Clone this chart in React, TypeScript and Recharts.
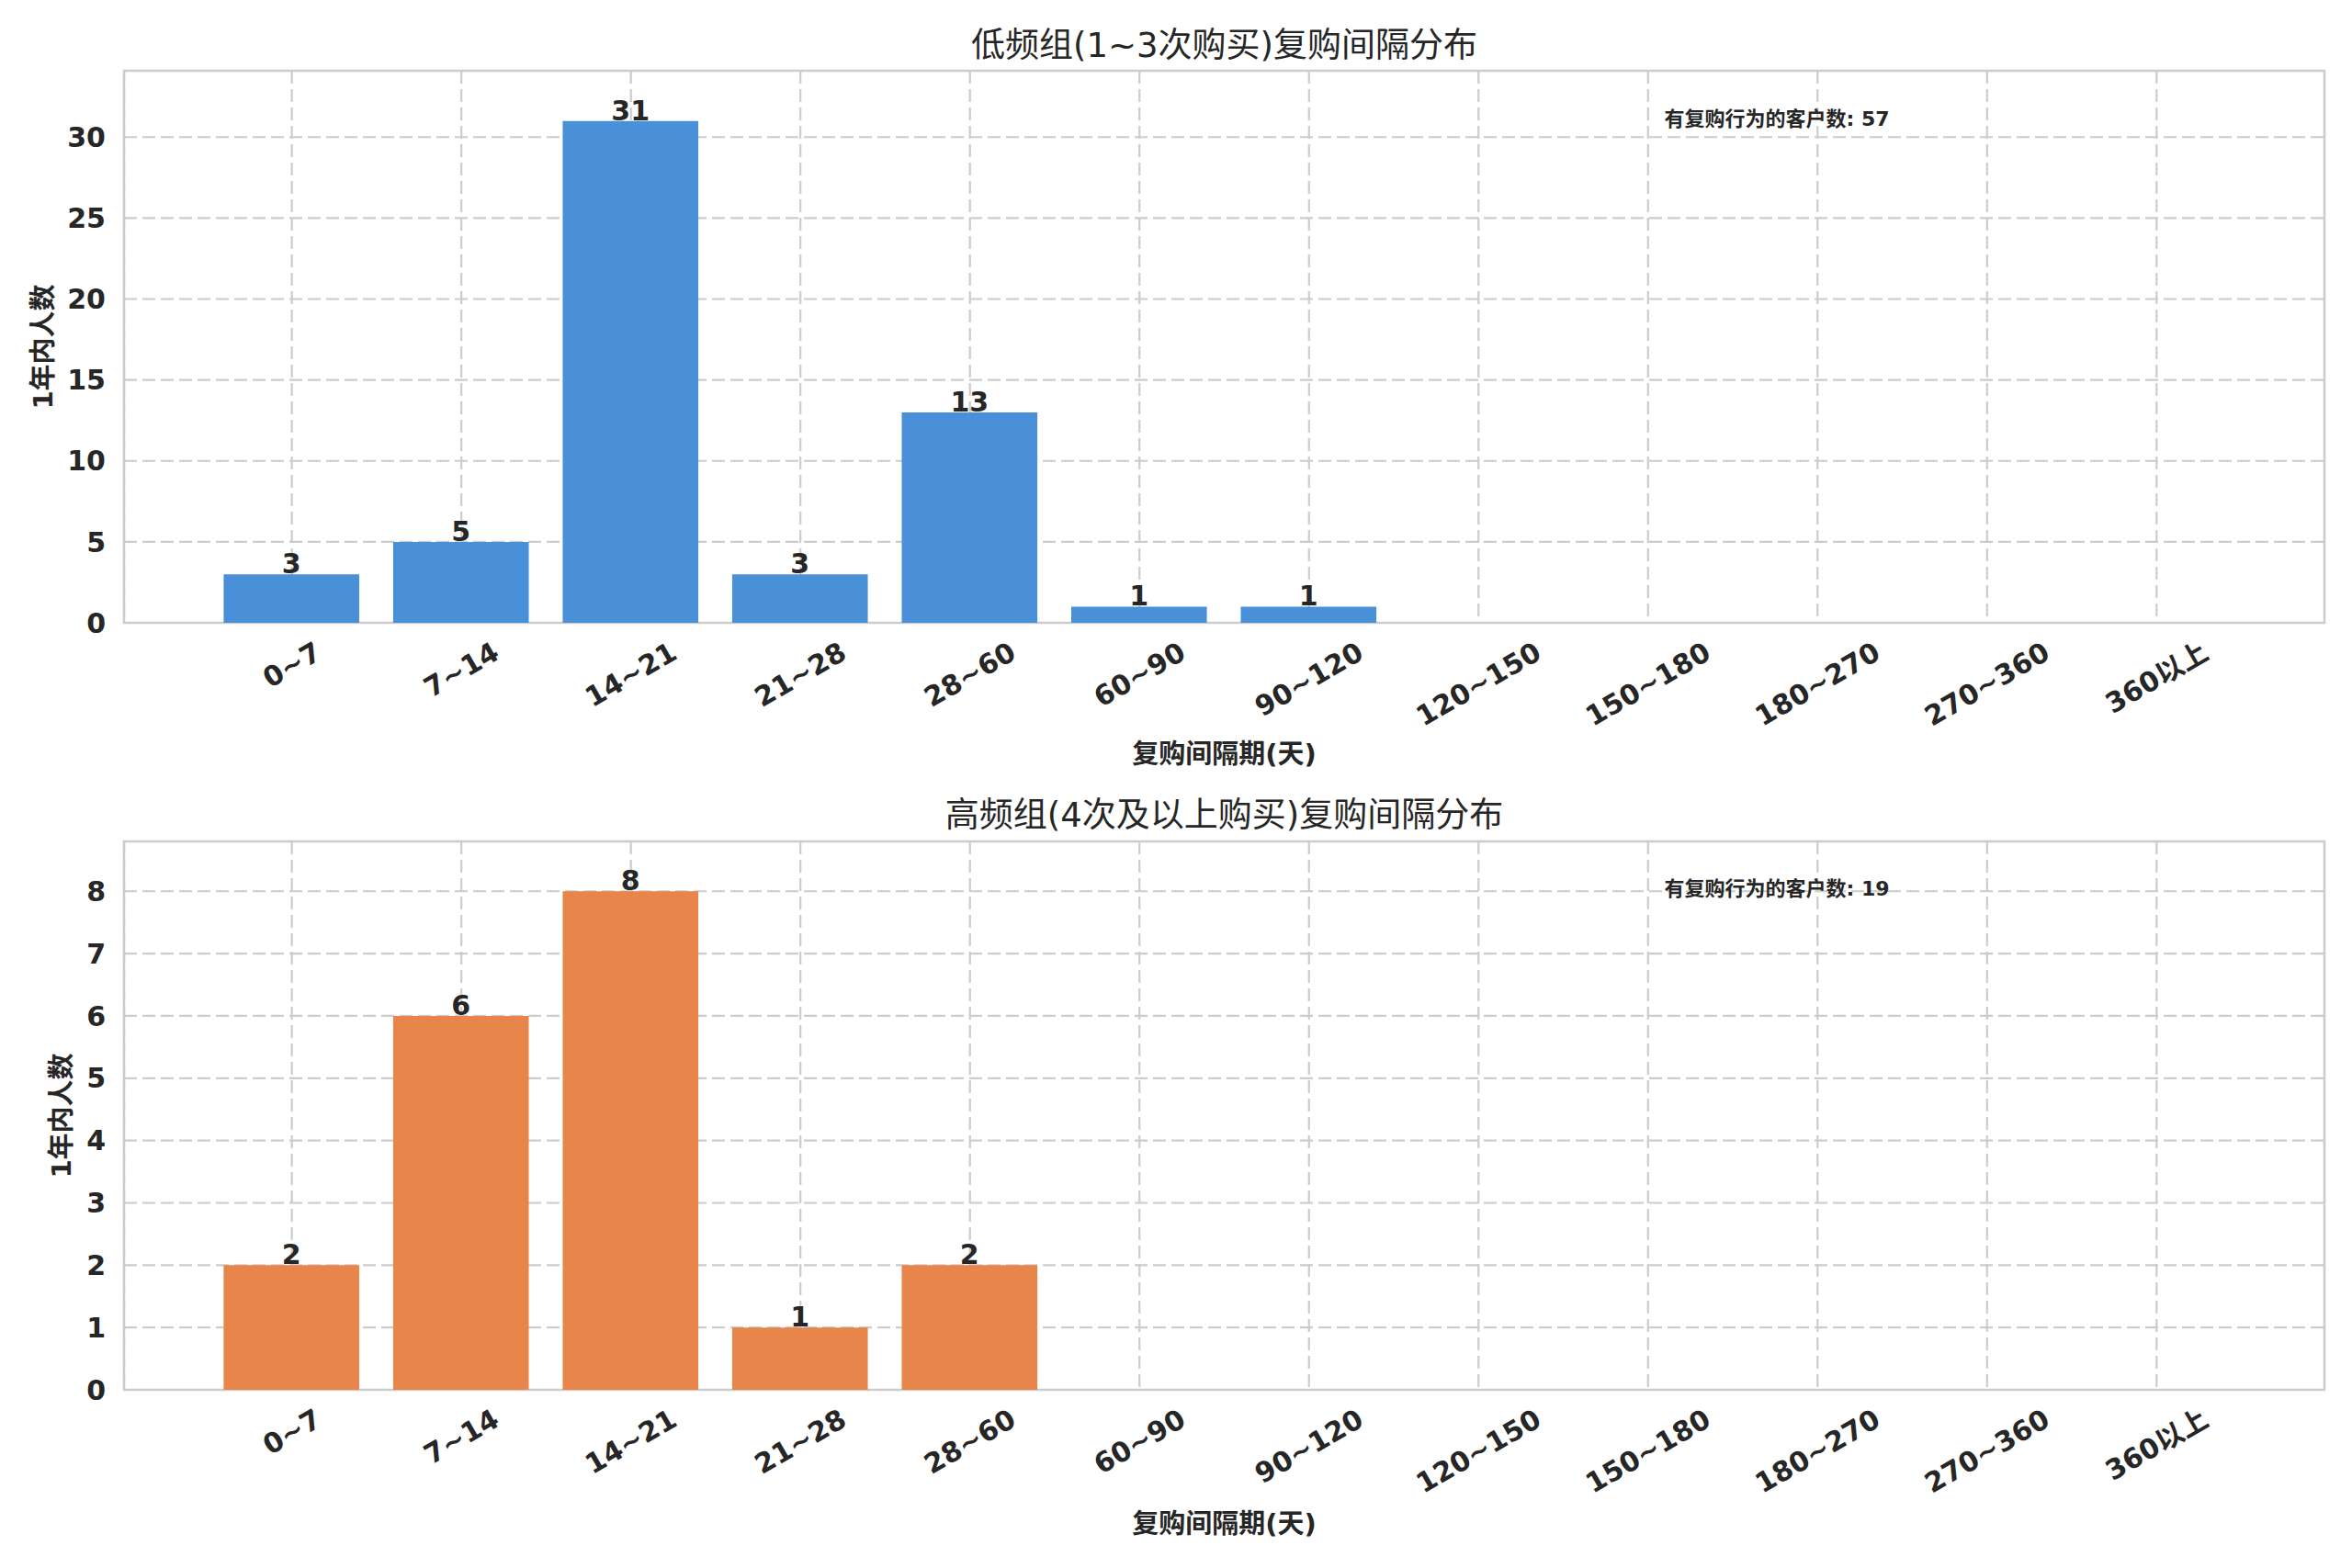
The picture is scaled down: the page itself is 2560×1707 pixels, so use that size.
import React from 'react';
import { BarChart, Bar, XAxis, YAxis, CartesianGrid, LabelList, ReferenceArea } from 'recharts';

// ---------- data ----------
const categories = ['0~7', '7~14', '14~21', '21~28', '28~60', '60~90', '90~120', '120~150', '150~180', '180~270', '270~360', '360以上'];
const lowFreqCounts = [3, 5, 31, 3, 13, 1, 1, 0, 0, 0, 0, 0];
const highFreqCounts = [2, 6, 8, 1, 2, 0, 0, 0, 0, 0, 0, 0];
const lowFreqTicks = [0, 5, 10, 15, 20, 25, 30];
const highFreqTicks = [0, 1, 2, 3, 4, 5, 6, 7, 8];
const xTickIdx = categories.map((_, i) => i);

const lowTitle = '低频组(1~3次购买)复购间隔分布';
const highTitle = '高频组(4次及以上购买)复购间隔分布';
const xLabelText = '复购间隔期(天)';
const yLabelText = '1年内人数';
const totalLabel = '有复购行为的客户数';

// ---------- style / layout ----------
const FONT = '"DejaVu Sans", "Noto Sans CJK SC", sans-serif';
const TEXT = '#262626';
const GRID = '#cccccc';
const BLUE = '#4A90D9';
const ORANGE = '#E8854A';
const TICK_FS = 30;
const W = 2560;
const PLOT_L = 135;
const PLOT_R = 2530;
const PLOT_W = PLOT_R - PLOT_L;
const X_MIN = -0.99;
const X_MAX = 11.99;
const BAR_SIZE = (0.8 * PLOT_W) / (X_MAX - X_MIN);
const Y_AXIS_W = 100;
const X_AXIS_H = 100;

let ctx: CanvasRenderingContext2D | null = null;
function measure(text: string, font: string): number {
  if (!ctx) ctx = document.createElement('canvas').getContext('2d');
  if (!ctx) return text.length * TICK_FS * 0.7;
  ctx.font = font;
  return ctx.measureText(text).width;
}

const XTick = (props: any) => {
  const { x, y, payload } = props;
  const label = categories[payload.value];
  if (label === undefined) return null;
  const w = measure(label, `bold ${TICK_FS}px "DejaVu Sans", "Noto Sans CJK SC"`);
  const h = TICK_FS * 1.164;
  const H = w * 0.5 + h * 0.866;
  const cy = y + H / 2;
  return (
    <text
      x={x}
      y={cy}
      dy={0.346 * TICK_FS}
      textAnchor="middle"
      transform={`rotate(-30 ${x} ${cy})`}
      fill={TEXT}
      fontSize={TICK_FS}
      fontWeight="bold"
      fontFamily={FONT}
    >
      {label}
    </text>
  );
};

const ValueLabel = (props: any) => {
  const { x, y, width, value } = props;
  if (!value) return null;
  return (
    <text
      x={Number(x) + Number(width) / 2}
      y={Number(y) - 1}
      textAnchor="middle"
      fill={TEXT}
      fontSize={TICK_FS}
      fontWeight="bold"
      fontFamily={FONT}
    >
      {value}
    </text>
  );
};

type PanelProps = {
  values: number[];
  ticks: number[];
  color: string;
  height: number;
  plotTop: number;
  plotBottom: number;
};

const Panel = ({ values, ticks, color, height, plotTop, plotBottom }: PanelProps) => {
  const data = categories.map((c, i) => ({ idx: i, name: c, value: values[i] }));
  const yMax = Math.max(...values) * 1.1;
  return (
    <BarChart
      width={W}
      height={height}
      data={data}
      margin={{
        top: plotTop,
        right: W - PLOT_R,
        left: PLOT_L - Y_AXIS_W,
        bottom: height - plotBottom - X_AXIS_H,
      }}
      style={{ overflow: 'visible' }}
    >
      <CartesianGrid stroke={GRID} strokeWidth={2.2} strokeDasharray="14 6" />
      <XAxis
        dataKey="idx"
        type="number"
        domain={[X_MIN, X_MAX]}
        ticks={xTickIdx}
        allowDataOverflow
        interval={0}
        height={X_AXIS_H}
        axisLine={false}
        tickLine={false}
        tickSize={0}
        tickMargin={14}
        tick={<XTick />}
      />
      <YAxis
        type="number"
        domain={[0, yMax]}
        ticks={ticks}
        allowDataOverflow
        interval={0}
        width={Y_AXIS_W}
        axisLine={false}
        tickLine={false}
        tickSize={0}
        tickMargin={20}
        tick={{ fill: TEXT, fontSize: TICK_FS, fontWeight: 'bold', fontFamily: FONT }}
      />
      <Bar dataKey="value" fill={color} barSize={BAR_SIZE} isAnimationActive={false}>
        <LabelList dataKey="value" content={<ValueLabel />} />
      </Bar>
      <ReferenceArea
        x1={X_MIN}
        x2={X_MAX}
        y1={0}
        y2={yMax}
        fill="none"
        fillOpacity={0}
        stroke={GRID}
        strokeWidth={2.5}
        ifOverflow="visible"
      />
    </BarChart>
  );
};

const TOP_H = 853;
const BOT_H = 1707 - TOP_H;
const P1_TOP = 77;
const P1_BOT = 678;
const P2_TOP = 916;
const P2_BOT = 1513;
const CX = (PLOT_L + PLOT_R) / 2;

export default function App() {
  const lowTotal = lowFreqCounts.reduce((a, b) => a + b, 0);
  const highTotal = highFreqCounts.reduce((a, b) => a + b, 0);
  return (
    <div style={{ position: 'absolute', left: 0, top: 0, width: W, height: 1707, background: '#fff' }}>
      <div style={{ position: 'absolute', left: 0, top: 0 }}>
        <Panel values={lowFreqCounts} ticks={lowFreqTicks} color={BLUE} height={TOP_H} plotTop={P1_TOP} plotBottom={P1_BOT} />
      </div>
      <div style={{ position: 'absolute', left: 0, top: TOP_H }}>
        <Panel
          values={highFreqCounts}
          ticks={highFreqTicks}
          color={ORANGE}
          height={BOT_H}
          plotTop={P2_TOP - TOP_H}
          plotBottom={P2_BOT - TOP_H}
        />
      </div>
      <svg width={W} height={1707} style={{ position: 'absolute', left: 0, top: 0, pointerEvents: 'none' }} fontFamily={FONT}>
        <text x={CX} y={49} textAnchor="middle" dominantBaseline="central" fontSize={37} fill={TEXT}>
          {lowTitle}
        </text>
        <text x={CX} y={887} textAnchor="middle" dominantBaseline="central" fontSize={37} fill={TEXT}>
          {highTitle}
        </text>
        <text x={CX} y={821} textAnchor="middle" dominantBaseline="central" fontSize={29} fontWeight="bold" fill={TEXT}>
          {xLabelText}
        </text>
        <text x={CX} y={1659} textAnchor="middle" dominantBaseline="central" fontSize={29} fontWeight="bold" fill={TEXT}>
          {xLabelText}
        </text>
        <text
          x={47}
          y={(P1_TOP + P1_BOT) / 2}
          textAnchor="middle"
          dominantBaseline="central"
          fontSize={29}
          fontWeight="bold"
          fill={TEXT}
          transform={`rotate(-90 47 ${(P1_TOP + P1_BOT) / 2})`}
        >
          {yLabelText}
        </text>
        <text
          x={67}
          y={(P2_TOP + P2_BOT) / 2}
          textAnchor="middle"
          dominantBaseline="central"
          fontSize={29}
          fontWeight="bold"
          fill={TEXT}
          transform={`rotate(-90 67 ${(P2_TOP + P2_BOT) / 2})`}
        >
          {yLabelText}
        </text>
        <text x={PLOT_L + 0.7 * PLOT_W} y={P1_TOP + 0.087 * (P1_BOT - P1_TOP)} dominantBaseline="central" fontSize={22} fontWeight="bold" fill={TEXT}>
          {`${totalLabel}: ${lowTotal}`}
        </text>
        <text x={PLOT_L + 0.7 * PLOT_W} y={P2_TOP + 0.087 * (P2_BOT - P2_TOP)} dominantBaseline="central" fontSize={22} fontWeight="bold" fill={TEXT}>
          {`${totalLabel}: ${highTotal}`}
        </text>
      </svg>
    </div>
  );
}
